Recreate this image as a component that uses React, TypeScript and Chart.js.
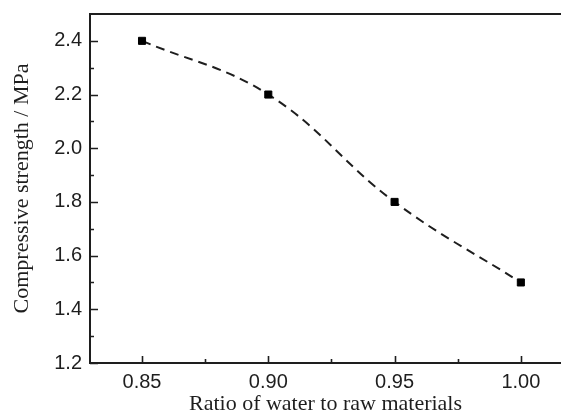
import { useEffect, useRef } from 'react';
import { Chart, registerables } from 'chart.js';

Chart.register(...registerables);

const waterRatio = [0.85, 0.9, 0.95, 1.0];
const strength = [2.4, 2.2, 1.8, 1.5];
const xMajorTicks = [0.85, 0.9, 0.95, 1.0];
const xMinorTicks = [0.875, 0.925, 0.975];
const yMajorTicks = [1.2, 1.4, 1.6, 1.8, 2.0, 2.2, 2.4];
const yMinorTicks = [1.3, 1.5, 1.7, 1.9, 2.1, 2.3];
const xTitle = 'Ratio of water to raw materials';
const yTitle = 'Compressive strength / MPa';

const INK = '#1e1e1e';

const frameTicks = {
  id: 'frameTicks',
  afterDatasetsDraw(chart: any) {
    const { ctx, chartArea, scales } = chart;
    const { left, right, top, bottom } = chartArea;
    const x = scales.x;
    const y = scales.y;
    ctx.save();
    ctx.strokeStyle = INK;
    ctx.lineWidth = 2;
    ctx.beginPath();
    ctx.moveTo(left - 1, top);
    ctx.lineTo(right, top);
    ctx.stroke();
    ctx.lineWidth = 1.6;
    ctx.beginPath();
    for (const v of xMajorTicks) {
      const px = Math.round(x.getPixelForValue(v)) + 0.5;
      ctx.moveTo(px, bottom);
      ctx.lineTo(px, bottom - 7);
    }
    for (const v of xMinorTicks) {
      const px = Math.round(x.getPixelForValue(v)) + 0.5;
      ctx.moveTo(px, bottom);
      ctx.lineTo(px, bottom - 4);
    }
    for (const v of yMajorTicks) {
      const py = Math.round(y.getPixelForValue(v)) + 0.5;
      ctx.moveTo(left, py);
      ctx.lineTo(left + 8, py);
    }
    for (const v of yMinorTicks) {
      const py = Math.round(y.getPixelForValue(v)) + 0.5;
      ctx.moveTo(left, py);
      ctx.lineTo(left + 4, py);
    }
    ctx.stroke();
    ctx.restore();
  },
};

const zeroPad = (s: any) => {
  s.paddingTop = 0;
  s.paddingBottom = 0;
  s.paddingLeft = 0;
  s.paddingRight = 0;
};

export default function App() {
  const ref = useRef<HTMLCanvasElement>(null);
  useEffect(() => {
    if (!ref.current) return;
    const chart = new Chart(ref.current, {
      type: 'line',
      data: {
        datasets: [
          {
            data: waterRatio.map((v, i) => ({ x: v, y: strength[i] })),
            borderColor: INK,
            borderWidth: 2,
            borderDash: [9, 6],
            tension: 0.4,
            pointStyle: 'rect',
            pointRadius: 5,
            pointBackgroundColor: '#000',
            pointBorderColor: '#000',
            pointBorderWidth: 1,
          },
        ],
      },
      options: {
        responsive: false,
        animation: false,
        layout: { autoPadding: false, padding: { top: 14, left: 0, right: 0, bottom: 0 } },
        plugins: { legend: { display: false }, tooltip: { enabled: false } },
        scales: {
          x: {
            type: 'linear',
            min: 0.8294,
            max: 1.0159,
            afterBuildTicks: (s: any) => {
              s.ticks = xMajorTicks.map((v) => ({ value: v }));
            },
            afterFit: (s: any) => {
              s.height = 53;
              zeroPad(s);
            },
            grid: { display: false, drawTicks: false },
            border: { display: true, color: INK, width: 2 },
            ticks: {
              padding: 7,
              color: INK,
              font: { family: 'Liberation Sans', size: 20 },
              callback: (v: any) => Number(v).toFixed(2),
            },
            title: {
              display: true,
              text: xTitle,
              color: INK,
              font: { family: 'Liberation Serif', size: 22, lineHeight: 1 },
              padding: { top: 0, bottom: 1 },
            },
          },
          y: {
            type: 'linear',
            min: 1.2,
            max: 2.5,
            afterBuildTicks: (s: any) => {
              s.ticks = yMajorTicks.map((v) => ({ value: v }));
            },
            afterFit: (s: any) => {
              s.width = 90;
              zeroPad(s);
            },
            grid: { display: false, drawTicks: false },
            border: { display: true, color: INK, width: 2 },
            ticks: {
              padding: 8,
              color: INK,
              font: { family: 'Liberation Sans', size: 20 },
              callback: (v: any) => Number(v).toFixed(1),
            },
            title: {
              display: true,
              text: yTitle,
              color: INK,
              font: { family: 'Liberation Serif', size: 22, lineHeight: 1 },
              padding: { top: 11, bottom: 0 },
            },
          },
        },
      },
      plugins: [frameTicks],
    } as any);
    return () => chart.destroy();
  }, []);
  return (
    <div style={{ position: 'fixed', left: 0, top: 0, width: 561, height: 416, background: '#fff' }}>
      <canvas ref={ref} width={561} height={416} style={{ display: 'block' }} />
    </div>
  );
}
